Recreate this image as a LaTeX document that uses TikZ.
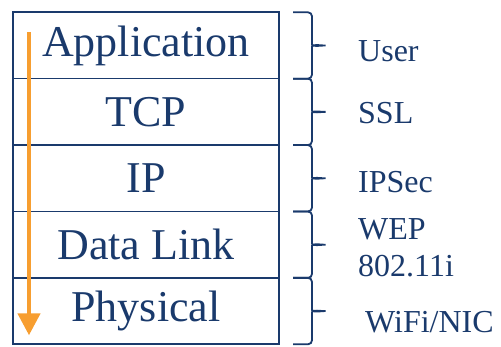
\documentclass[tikz,border=0pt]{standalone}
\usepackage{fontspec}
\setmainfont{Liberation Serif}
\usetikzlibrary{positioning,arrows.meta}
\definecolor{navy}{RGB}{26,58,108}
\definecolor{flow}{RGB}{247,158,48}
\begin{document}
\begin{tikzpicture}[x=1pt,y=1pt,
  layer/.style={draw=navy, line width=1.6pt, minimum width=266pt, minimum height=66.4pt,
    inner sep=0pt, outer sep=0pt, text=navy, font=\fontsize{44}{48}\selectfont},
  lbl/.style={anchor=west, align=left, inner sep=0pt, text=navy, font=\fontsize{32}{37}\selectfont},
  curly/.style={draw=navy, line width=1.8pt, rounded corners=4pt}]
  \useasboundingbox (0,0) rectangle (501,-347);

  % Livelli
  \node[layer] (app) at (146,-45.5) {Application};
  \node[layer, below=0pt of app] (tcp) {TCP};
  \node[layer, below=0pt of tcp] (ip) {IP};
  \node[layer, below=0pt of ip] (link) {Data Link};
  \node[layer, below=0pt of link] (phy) {Physical};

  % Freccia
  \coordinate (flowtop) at ([xshift=16pt, yshift=-20pt]app.north west);
  \coordinate (flowend) at ([xshift=16pt, yshift=9pt]phy.south west);
  \draw[flow, line width=4.5pt, -{Triangle[width=22pt, length=22pt]}] (flowtop) -- (flowend);

  % Graffe
  \foreach \n in {app, tcp, ip, link, phy}
    \draw[curly] ([xshift=14pt]\n.north east) -- ([xshift=33pt]\n.north east)
      -- ([xshift=33pt, yshift=5pt]\n.east) to[out=-90, in=180] ([xshift=49pt]\n.east)
      to[out=180, in=90] ([xshift=33pt, yshift=-5pt]\n.east)
      -- ([xshift=33pt]\n.south east) -- ([xshift=14pt]\n.south east);

  % Etichette
  \node[lbl] (user) at ([xshift=79pt, yshift=-5.5pt]app.east) {User};
  \node[lbl] (ssl) at ([xshift=79pt, yshift=-1pt]tcp.east) {SSL};
  \node[lbl] (ipsec) at ([xshift=79pt, yshift=-4pt]ip.east) {IPSec};
  \node[lbl] (wep) at ([xshift=79pt, yshift=-3.5pt]link.east) {WEP\\802.11i};
  \node[lbl] (nic) at ([xshift=86pt, yshift=-11pt]phy.east) {WiFi/NIC};
\end{tikzpicture}
\end{document}
